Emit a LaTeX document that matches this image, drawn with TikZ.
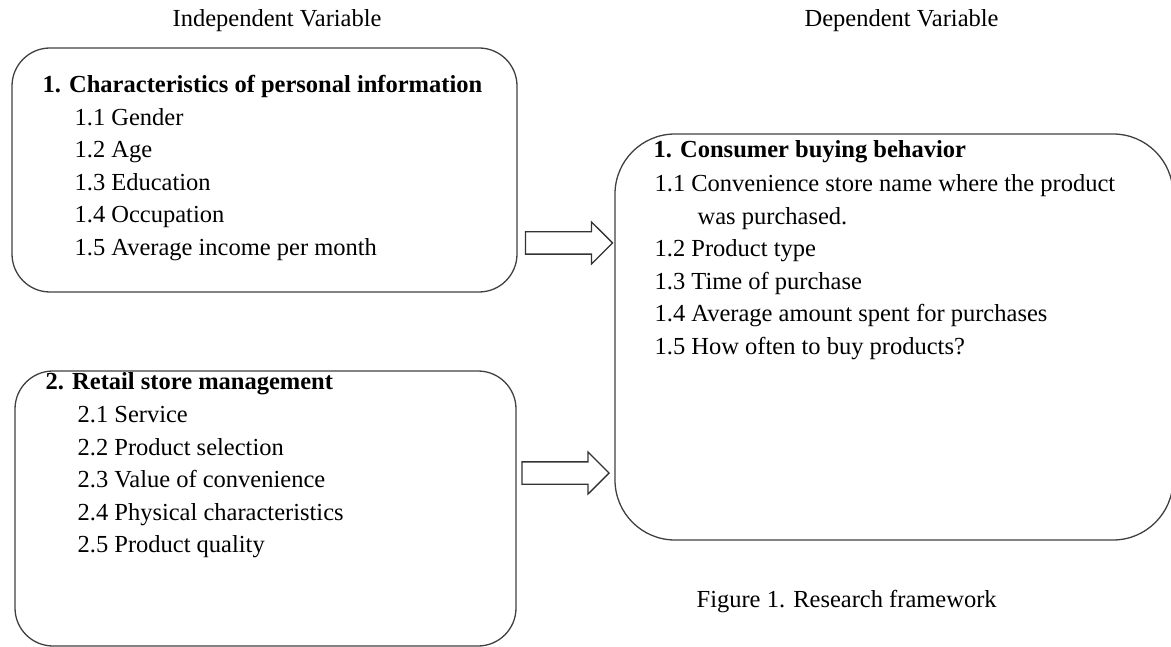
\documentclass[tikz,border=0pt]{standalone}
\usepackage{fontspec}
\setmainfont{Liberation Serif}
\usetikzlibrary{shapes.arrows,positioning}

\begin{document}
\begin{tikzpicture}[x=1pt, y=-1pt, line width=1.3pt]
    \tikzset{
        box/.style={draw=black!75, rectangle, rounded corners=38pt, inner sep=0pt},
        bigbox/.style={box, rounded corners=60pt},
        head/.style={anchor=base west, inner sep=0pt, font=\fontsize{24.5}{32.5}\selectfont\bfseries},
        items/.style={anchor=north west, inner sep=0pt, align=left, font=\fontsize{24.5}{32.5}\selectfont},
        title/.style={anchor=base west, inner sep=0pt, font=\fontsize{24.5}{32.5}\selectfont},
        bigarrow/.style={draw=black!80, single arrow, minimum height=87pt, inner xsep=0pt, inner ysep=10.5pt, single arrow head extend=10pt}
    }
    \useasboundingbox (0,0) rectangle (1171,647);

    % headings
    \node [title] (indep) at (172,27) {Independent Variable};
    \node [title] (dep) at (804,27) {Dependent Variable};

    % boxes
    \node [box, minimum width=505pt, minimum height=244pt] (personal) at (264.5,170) {};
    \node [box, minimum width=501pt, minimum height=275pt] (retail) at (265.5,508.5) {};
    \node [bigbox, minimum width=558pt, minimum height=406pt] (behavior) at (894,337) {};

    % box texts
    \node [head] (personalhead) at (42,93) {1. Characteristics of personal information};
    \node [items] (personallist) at (74,107.5) {1.1 Gender\\1.2 Age\\1.3 Education\\1.4 Occupation\\1.5 Average income per month};
    \node [head] (retailhead) at (45,389) {2. Retail store management};
    \node [items] (retaillist) at (77,406) {2.1 Service\\2.2 Product selection\\2.3 Value of convenience\\2.4 Physical characteristics\\2.5 Product quality};
    \node [head] (behaviorhead) at (653,158) {1. Consumer buying behavior};
    \node [items] (behaviorlist) at (654,174) {1.1 Convenience store name where the product\\\hspace*{43pt}was purchased.\\1.2 Product type\\1.3 Time of purchase\\1.4 Average amount spent for purchases\\1.5 How often to buy products?};

    % arrows
    \node [bigarrow] (arrowtop) at (563.5,243) {};
    \node [bigarrow] (arrowbottom) at (560,473) {};

    \node [title] (caption) at (696,607) {Figure 1. Research framework};
\end{tikzpicture}
\end{document}
